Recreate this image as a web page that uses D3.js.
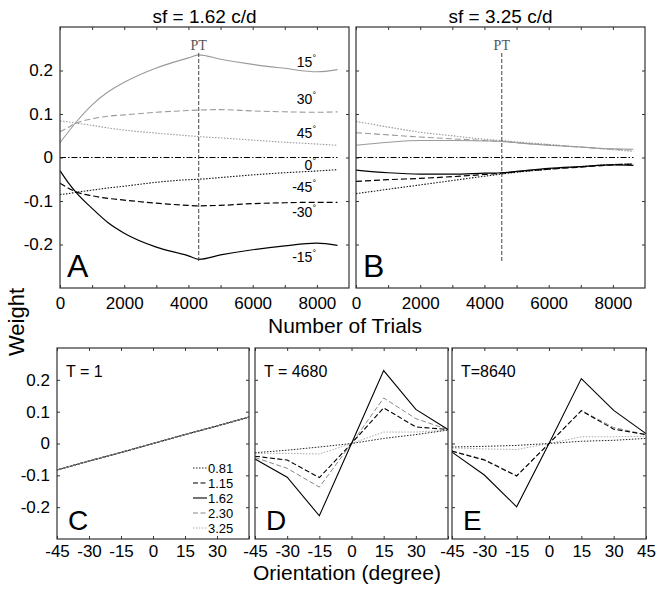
<!DOCTYPE html>
<html><head><meta charset="utf-8">
<script src="https://cdn.jsdelivr.net/npm/d3@7"></script>
<style>
body{margin:0;background:#fff}
text{font-family:"Liberation Sans",Arial,sans-serif;fill:#000}
</style>
</head><body><svg id="chart" width="663" height="592"></svg>
<script>
// ---------- DATA ----------
// Top panels: weights vs number of trials
const trialsA = [0, 250, 500, 1000, 1500, 2000, 3000, 4000, 4320, 5000, 6000, 7000, 8000, 8640];
const A_p15 = [0.034, 0.058, 0.081, 0.121, 0.151, 0.173, 0.206, 0.229, 0.236, 0.226, 0.214, 0.205, 0.197, 0.202];
const A_p30 = [0.059, 0.069, 0.079, 0.089, 0.095, 0.098, 0.104, 0.108, 0.109, 0.110, 0.107, 0.105, 0.104, 0.105];
const A_p45 = [0.084, 0.082, 0.079, 0.074, 0.068, 0.063, 0.056, 0.050, 0.048, 0.045, 0.040, 0.035, 0.031, 0.028];
const A_0   = [0, 0, 0, 0, 0, 0, 0, 0, 0, 0, 0, 0, 0, 0];
const A_m45 = [-0.085, -0.083, -0.080, -0.075, -0.070, -0.066, -0.057, -0.051, -0.050, -0.046, -0.040, -0.035, -0.031, -0.028];
const A_m30 = [-0.059, -0.070, -0.079, -0.088, -0.094, -0.098, -0.105, -0.110, -0.111, -0.110, -0.106, -0.104, -0.103, -0.103];
const A_m15 = [-0.030, -0.057, -0.080, -0.117, -0.150, -0.174, -0.206, -0.226, -0.234, -0.224, -0.212, -0.203, -0.197, -0.202];
const ptA = 4320;

const trialsB = [0, 1000, 2000, 3000, 4000, 4540, 5000, 6000, 7000, 8000, 8640];
const B_p45 = [0.083, 0.070, 0.058, 0.050, 0.042, 0.039, 0.036, 0.030, 0.024, 0.018, 0.014];
const B_p30 = [0.057, 0.052, 0.047, 0.043, 0.039, 0.037, 0.034, 0.029, 0.024, 0.019, 0.017];
const B_p15 = [0.028, 0.035, 0.039, 0.039, 0.038, 0.037, 0.034, 0.028, 0.024, 0.020, 0.019];
const B_0   = [0, 0, 0, 0, 0, 0, 0, 0, 0, 0, 0];
const B_m15 = [-0.029, -0.035, -0.038, -0.038, -0.036, -0.035, -0.032, -0.025, -0.021, -0.017, -0.018];
const B_m30 = [-0.055, -0.051, -0.048, -0.044, -0.039, -0.036, -0.033, -0.027, -0.022, -0.017, -0.015];
const B_m45 = [-0.083, -0.073, -0.063, -0.053, -0.043, -0.038, -0.034, -0.027, -0.021, -0.016, -0.015];
const ptB = 4540;

const orientNames = ["15", "30", "45", "0", "-45", "-30", "-15"];
const orientLabelY = [0.219, 0.134, 0.056, -0.017, -0.068, -0.125, -0.228];

const trialTicks = [0, 1000, 2000, 3000, 4000, 5000, 6000, 7000, 8000];
const trialLabels = [0, 2000, 4000, 6000, 8000];
const weightTicks = [-0.2, -0.1, 0, 0.1, 0.2];

// Bottom panels: weights vs orientation for each spatial frequency
const orientations = [-45, -30, -15, 0, 15, 30, 45];
const orientLabelsInner = [-45, -30, -15, 0, 15, 30];
const sfLabels = ["0.81", "1.15", "1.62", "2.30", "3.25"];
const C_all = [-0.083, -0.055, -0.028, 0, 0.028, 0.055, 0.083];
const D_081 = [-0.029, -0.021, -0.011, 0, 0.016, 0.028, 0.042];
const D_115 = [-0.040, -0.052, -0.107, 0, 0.112, 0.052, 0.044];
const D_162 = [-0.049, -0.106, -0.227, 0, 0.229, 0.107, 0.044];
const D_230 = [-0.044, -0.078, -0.137, 0, 0.143, 0.078, 0.044];
const D_325 = [-0.031, -0.031, -0.033, 0, 0.036, 0.036, 0.042];
const E_081 = [-0.011, -0.009, -0.006, 0, 0.007, 0.010, 0.016];
const E_115 = [-0.024, -0.052, -0.102, 0, 0.103, 0.045, 0.028];
const E_162 = [-0.027, -0.099, -0.199, 0, 0.204, 0.104, 0.031];
const E_230 = [-0.024, -0.050, -0.101, 0, 0.104, 0.050, 0.028];
const E_325 = [-0.014, -0.017, -0.019, 0, 0.021, 0.021, 0.023];

// ---------- STYLES ----------
const GRAY = "#9a9a9a";
const orientStyle = {
  "15":  {c: GRAY, d: null, w: 1.1},
  "30":  {c: GRAY, d: "6,3", w: 1.1},
  "45":  {c: GRAY, d: "1.5,1.5", w: 1.1},
  "0":   {c: "#000", d: "6,2,1.5,2", w: 1},
  "-45": {c: "#111", d: "1.5,1.5", w: 1.1},
  "-30": {c: "#000", d: "6,3", w: 1.2},
  "-15": {c: "#000", d: null, w: 1.2}
};
const sfStyle = {
  "0.81": {c: "#222", d: "1.5,1.5", w: 1},
  "1.15": {c: "#000", d: "5,2.5", w: 1.1},
  "1.62": {c: "#000", d: null, w: 1.1},
  "2.30": {c: "#888", d: "5,2.5", w: 1},
  "3.25": {c: "#aaa", d: "1.5,1.5", w: 1}
};

const svg = d3.select("#chart");
const fmt = d => String(d);

function frameAxes(g, x, y, xTicks, xLabelSet, yLabels, padX) {
  const [x0, x1] = x.range(), [y1, y0] = y.range();
  g.append("g").attr("transform", `translate(0,${y1})`)
    .call(d3.axisBottom(x).tickValues(xTicks).tickSize(-3).tickPadding(padX)
      .tickFormat(d => xLabelSet.includes(d) ? fmt(d) : ""))
    .call(a => { a.select(".domain").remove(); a.selectAll("text").attr("font-size", 17); a.selectAll("line").attr("stroke", "#333"); });
  g.append("g").attr("transform", `translate(0,${y0})`)
    .call(d3.axisTop(x).tickValues(xTicks).tickSize(-3).tickFormat(""))
    .call(a => { a.select(".domain").remove(); a.selectAll("line").attr("stroke", "#333"); });
  g.append("g").attr("transform", `translate(${x0},0)`)
    .call(d3.axisLeft(y).tickValues(weightTicks).tickSize(-3).tickPadding(7)
      .tickFormat(d => yLabels ? fmt(d) : ""))
    .call(a => { a.select(".domain").remove(); a.selectAll("text").attr("font-size", 17); a.selectAll("line").attr("stroke", "#333"); });
  g.append("g").attr("transform", `translate(${x1},0)`)
    .call(d3.axisRight(y).tickValues(weightTicks).tickSize(-3).tickFormat(""))
    .call(a => { a.select(".domain").remove(); a.selectAll("line").attr("stroke", "#333"); });
  g.append("rect").attr("x", x0).attr("y", y0).attr("width", x1 - x0).attr("height", y1 - y0)
    .attr("fill", "none").attr("stroke", "#333").attr("stroke-width", 1.2);
}

function drawLine(g, xs, ys, x, y, st, curve) {
  g.append("path")
    .datum(xs.map((v, i) => [v, ys[i]]))
    .attr("d", d3.line().x(d => x(d[0])).y(d => y(d[1])).curve(curve))
    .attr("fill", "none").attr("stroke", st.c).attr("stroke-width", st.w)
    .attr("stroke-dasharray", st.d);
}

// ---------- TOP PANELS ----------
function topPanel(x0, x1, trials, series, pt, title, letter, yLabels, showNames) {
  const x = d3.scaleLinear().domain([0, 9000]).range([x0, x1]);
  const y = d3.scaleLinear().domain([-0.3, 0.3]).range([288, 27]);
  const g = svg.append("g");
  g.append("text").attr("x", (x0 + x1) / 2).attr("y", 23).attr("text-anchor", "middle")
    .attr("font-size", 19).text(title);
  series.forEach((s, i) => drawLine(g, trials, s, x, y, orientStyle[orientNames[i]], d3.curveMonotoneX));
  // PT line
  g.append("line").attr("x1", x(pt)).attr("x2", x(pt)).attr("y1", 53).attr("y2", 263)
    .attr("stroke", "#444").attr("stroke-width", 1).attr("stroke-dasharray", "4,2");
  g.append("text").attr("x", x(pt)).attr("y", 50).attr("text-anchor", "middle")
    .style("font-family", "'Liberation Serif','Times New Roman',serif").style("fill", "#555")
    .attr("font-size", 14).text("PT");
  if (showNames) {
    orientNames.forEach((n, i) => {
      const t = g.append("text").attr("x", 316).attr("y", y(orientLabelY[i]) + 5)
        .attr("text-anchor", "end").attr("font-size", 14);
      t.append("tspan").text(n);
      t.append("tspan").attr("dy", -6).attr("font-size", 9).text("°");
    });
  }
  g.append("text").attr("x", x0 + 7).attr("y", 277).attr("font-size", 32).text(letter);
  frameAxes(g, x, y, trialTicks, trialLabels, yLabels, 9);
}

topPanel(60, 349, trialsA, [A_p15, A_p30, A_p45, A_0, A_m45, A_m30, A_m15], ptA, "sf = 1.62 c/d", "A", true, true);
topPanel(356, 645, trialsB, [B_p15, B_p30, B_p45, B_0, B_m45, B_m30, B_m15], ptB, "sf = 3.25 c/d", "B", false, false);

svg.append("text").attr("x", 345).attr("y", 333).attr("text-anchor", "middle")
  .attr("font-size", 21).text("Number of Trials");
svg.append("text").attr("transform", "translate(24,322) rotate(-90)").attr("text-anchor", "middle")
  .attr("font-size", 22).text("Weight");

// ---------- BOTTOM PANELS ----------
function bottomPanel(x0, x1, series, label, letter, yLabels, legend, xLabels, order) {
  const x = d3.scaleLinear().domain([-45, 45]).range([x0, x1]);
  const y = d3.scaleLinear().domain([-0.3, 0.3]).range([539, 348]);
  const g = svg.append("g");
  order.forEach(i => drawLine(g, orientations, series[i], x, y, sfStyle[sfLabels[i]], d3.curveLinear));
  g.append("text").attr("x", x0 + 9).attr("y", 377).attr("font-size", 16).text(label);
  g.append("text").attr("x", x0 + 11).attr("y", 530).attr("font-size", 28).text(letter);
  if (legend) {
    sfLabels.forEach((s, i) => {
      const ly = 468 + i * 15;
      const st = sfStyle[s];
      g.append("line").attr("x1", x1 - 56).attr("x2", x1 - 42).attr("y1", ly).attr("y2", ly)
        .attr("stroke", st.c).attr("stroke-width", st.w).attr("stroke-dasharray", st.d);
      g.append("text").attr("x", x1 - 41).attr("y", ly + 4.5).attr("font-size", 13).text(s);
    });
  }
  frameAxes(g, x, y, orientations, xLabels, yLabels, 6);
}

bottomPanel(57, 249, [C_all, C_all, C_all, C_all, C_all], "T = 1", "C", true, true, orientLabelsInner, [2, 1, 0, 4, 3]);
bottomPanel(255, 448, [D_081, D_115, D_162, D_230, D_325], "T = 4680", "D", false, false, orientLabelsInner, [4, 0, 3, 1, 2]);
bottomPanel(452, 646, [E_081, E_115, E_162, E_230, E_325], "T=8640", "E", false, false, orientations, [4, 0, 3, 1, 2]);

svg.append("text").attr("x", 347).attr("y", 580).attr("text-anchor", "middle")
  .attr("font-size", 21).text("Orientation (degree)");
</script>
</body></html>
